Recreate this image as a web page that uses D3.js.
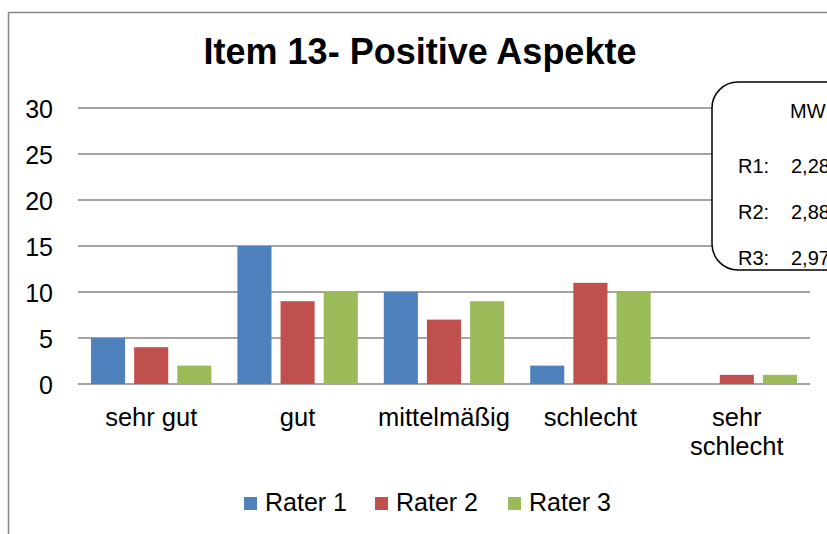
<!DOCTYPE html>
<html>
<head>
<meta charset="utf-8">
<script src="https://cdn.jsdelivr.net/npm/d3@7"></script>
<style>
  body { margin: 0; background: #fff; }
  svg { display: block; font-family: "Liberation Sans", Arial, sans-serif; }
</style>
</head>
<body>
<svg id="chart" width="827" height="534"></svg>
<script>
// data
var categories = ["sehr gut", "gut", "mittelmäßig", "schlecht", "sehr schlecht"];
var series = ["Rater 1", "Rater 2", "Rater 3"];
var rater1 = [5, 15, 10, 2, 0];
var rater2 = [4, 9, 7, 11, 1];
var rater3 = [2, 10, 9, 10, 1];
var yTicks = [0, 5, 10, 15, 20, 25, 30];
var mwLabels = ["R1:", "R2:", "R3:"];
var mwValues = ["2,28", "2,88", "2,97"];

var colors = ["#4F81BD", "#C0504D", "#9BBB59"];
var values = [rater1, rater2, rater3];

var svg = d3.select("#chart"),
    margin = {top: 108, right: 17, bottom: 150, left: 78},
    width = 827 - margin.left - margin.right,
    height = 534 - margin.top - margin.bottom;

// outer frame (runs past the picture edge)
svg.append("rect")
    .attr("x", 8.5).attr("y", 12.5)
    .attr("width", 900).attr("height", 600)
    .attr("fill", "none")
    .attr("stroke", "#868686")
    .attr("stroke-width", 1.5);

svg.append("text")
    .attr("x", 420).attr("y", 64)
    .attr("text-anchor", "middle")
    .attr("font-size", 36)
    .attr("font-weight", "bold")
    .text("Item 13- Positive Aspekte");

var g = svg.append("g").attr("transform", "translate(" + margin.left + "," + margin.top + ")");

var x0 = d3.scaleBand().domain(categories).range([0, width]).padding(0);
var x1 = d3.scaleBand().domain(series).range([13, x0.bandwidth() - 13]).paddingInner(0.21).paddingOuter(0);
var y = d3.scaleLinear().domain([0, 30]).range([height, 0]);

// gridlines
g.append("g")
    .selectAll("line")
    .data(yTicks)
    .enter().append("line")
    .attr("x1", 0).attr("x2", width)
    .attr("y1", function(d) { return y(d); })
    .attr("y2", function(d) { return y(d); })
    .attr("stroke", "#868686")
    .attr("stroke-width", 1.5);

// y tick labels
g.append("g")
    .selectAll("text")
    .data(yTicks)
    .enter().append("text")
    .attr("x", -25)
    .attr("y", function(d) { return y(d); })
    .attr("dy", "0.38em")
    .attr("text-anchor", "end")
    .attr("font-size", 25)
    .text(function(d) { return d; });

// bars
var rows = categories.map(function(c, i) {
  return {cat: c, vals: series.map(function(s, j) { return {key: s, value: values[j][i], color: colors[j]}; })};
});

g.append("g")
    .selectAll("g")
    .data(rows)
    .enter().append("g")
    .attr("transform", function(d) { return "translate(" + x0(d.cat) + ",0)"; })
    .selectAll("rect")
    .data(function(d) { return d.vals; })
    .enter().append("rect")
    .attr("x", function(d) { return x1(d.key); })
    .attr("y", function(d) { return y(d.value); })
    .attr("width", x1.bandwidth())
    .attr("height", function(d) { return height - y(d.value); })
    .attr("fill", function(d) { return d.color; });

// category labels
var catText = g.append("g")
    .selectAll("text")
    .data(categories)
    .enter().append("text")
    .attr("x", function(d) { return x0(d) + x0.bandwidth() / 2; })
    .attr("y", height + 42)
    .attr("text-anchor", "middle")
    .attr("font-size", 25.5);

catText.each(function(d) {
  var t = d3.select(this);
  if (d == "sehr schlecht") {
    t.append("tspan").attr("x", x0(d) + x0.bandwidth() / 2).text("sehr");
    t.append("tspan").attr("x", x0(d) + x0.bandwidth() / 2).attr("dy", 29).text("schlecht");
  } else {
    t.text(d);
  }
});

// legend
var legendX = [244, 375, 508];
var legend = svg.append("g")
    .selectAll("g")
    .data(series)
    .enter().append("g")
    .attr("transform", function(d, i) { return "translate(" + legendX[i] + ",497)"; });

legend.append("rect")
    .attr("width", 13).attr("height", 13)
    .attr("fill", function(d, i) { return colors[i]; });

legend.append("text")
    .attr("x", 21).attr("y", 14)
    .attr("font-size", 25)
    .text(function(d) { return d; });

// MW box
svg.append("rect")
    .attr("x", 712).attr("y", 82)
    .attr("width", 200).attr("height", 188)
    .attr("rx", 26).attr("ry", 26)
    .attr("fill", "#fff")
    .attr("stroke", "#000")
    .attr("stroke-width", 1.5);

svg.append("text")
    .attr("x", 790).attr("y", 118)
    .attr("font-size", 20)
    .text("MW");

var mw = svg.append("g")
    .selectAll("g")
    .data(mwLabels)
    .enter().append("g")
    .attr("transform", function(d, i) { return "translate(738," + (173 + i * 46) + ")"; });

mw.append("text")
    .attr("font-size", 20)
    .text(function(d) { return d; });

mw.append("text")
    .attr("x", 53)
    .attr("font-size", 20)
    .text(function(d, i) { return mwValues[i]; });
</script>
</body>
</html>
